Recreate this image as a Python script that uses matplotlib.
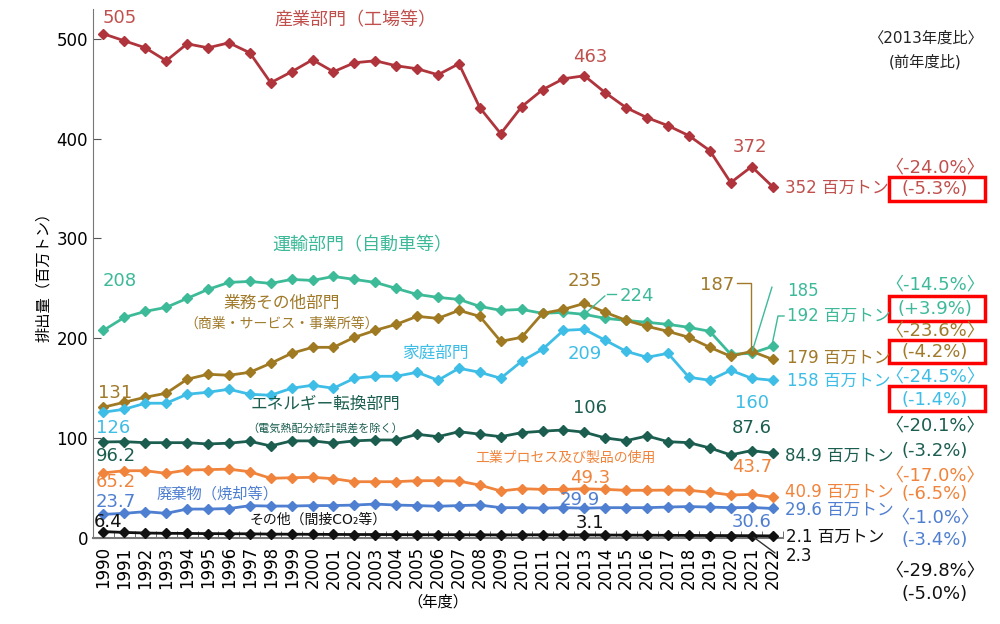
# CO2 emissions by sector, 1990-2022

import matplotlib
matplotlib.use("Agg")
import matplotlib.pyplot as plt
import matplotlib.patches as patches
import numpy as np

plt.rcParams['font.family'] = ['DejaVu Sans', 'Noto Sans CJK JP']

years = np.arange(1990, 2023)

industry = [505, 498, 491, 478, 495, 491, 496, 486, 456, 467, 479, 467, 476, 478, 473, 470,
            464, 475, 431, 405, 432, 449, 460, 463, 446, 431, 421, 413, 403, 388, 356, 372, 352]
transport = [208, 221, 227, 231, 240, 249, 256, 257, 255, 259, 258, 262, 259, 256, 250, 244,
             241, 239, 232, 228, 229, 225, 226, 224, 220, 218, 216, 214, 211, 207, 184, 185, 192]
commercial = [131, 136, 141, 145, 159, 164, 163, 166, 175, 185, 191, 191, 201, 208, 214, 222,
              220, 228, 222, 197, 201, 225, 229, 235, 226, 218, 212, 207, 201, 191, 182, 187, 179]
household = [126, 129, 135, 135, 144, 146, 149, 144, 143, 150, 153, 150, 160, 162, 162, 166,
             158, 170, 166, 160, 177, 189, 208, 209, 198, 187, 181, 185, 161, 158, 168, 160, 158]
energy = [96.2, 96.5, 95.5, 95.5, 95.5, 94.2, 95.0, 96.9, 92.2, 97.3, 97.3, 95.0, 97.3, 98.2,
          98.2, 103.9, 101.5, 106.5, 104.0, 101.5, 105.5, 107.0, 108.2, 106.0, 100.2, 97.5,
          102.2, 96.5, 95.5, 90.2, 83.2, 87.6, 84.9]
process = [65.2, 67.4, 67.4, 64.8, 68.1, 68.5, 69.0, 66.4, 59.8, 60.4, 60.8, 59.4, 56.4, 56.4,
           56.4, 57.4, 57.4, 57.0, 53.0, 47.1, 49.4, 48.7, 48.7, 49.3, 48.7, 47.8, 47.8, 48.0,
           47.8, 45.8, 43.1, 43.7, 40.9]
waste = [23.7, 24.7, 26.4, 24.7, 29.0, 29.0, 29.5, 32.4, 32.0, 32.0, 32.5, 32.5, 33.0, 34.0,
         33.0, 32.5, 31.8, 32.5, 33.0, 30.4, 30.4, 30.0, 30.4, 29.9, 30.4, 30.4, 30.4, 31.0,
         31.5, 31.0, 30.4, 30.6, 29.6]
other = [6.4, 5.6, 5.0, 4.7, 4.6, 4.4, 4.3, 4.2, 3.9, 3.8, 3.7, 3.6, 3.5, 3.5, 3.4, 3.3,
         3.3, 3.3, 3.2, 3.1, 3.2, 3.2, 3.1, 3.1, 3.0, 2.9, 2.8, 2.7, 2.6, 2.5, 2.4, 2.3, 2.1]

c_ind, t_ind = '#B0343C', '#C0504D'
c_tra, t_tra = '#3DBB98', '#3DB99A'
c_com, t_com = '#A07A22', '#A07A2A'
c_hou = '#3EBDE6'
c_ene = '#1B5E50'
c_pro = '#F0843C'
c_was = '#4F7FD0'
c_oth = '#111111'

fig = plt.figure(figsize=(10, 6.24), dpi=100)
ax = fig.add_axes([0.093, 0.1378, 0.69, 0.848])

series = [(industry, c_ind), (transport, c_tra), (commercial, c_com), (household, c_hou),
          (energy, c_ene), (process, c_pro), (waste, c_was), (other, c_oth)]
for vals, col in series:
    ax.plot(years, vals, color=col, lw=2, marker='D', ms=5, zorder=3, clip_on=False)

ax.set_xlim(1989.52, 2022.48)
ax.set_ylim(0, 530)
ax.set_yticks([0, 100, 200, 300, 400, 500])
ax.set_xticks(years)
ax.set_xticklabels([str(y) for y in years], rotation=90, fontsize=12)
ax.set_xticks(np.arange(1989.5, 2023, 1), minor=True)
ax.tick_params(axis='x', which='major', length=0, pad=6)
ax.tick_params(axis='x', which='minor', direction='in', length=5, color='#555555')
ax.tick_params(axis='y', direction='in', length=6, labelsize=12, color='#555555')
for s in ['top', 'right']:
    ax.spines[s].set_visible(False)
ax.spines['left'].set_color('#777777')
ax.spines['bottom'].set_color('#777777')
ax.spines['bottom'].set_linewidth(1.5)
ax.set_ylabel('排出量（百万トン）', fontsize=11, labelpad=4)
ax.set_xlabel('（年度）', fontsize=11, labelpad=4)


def ft(x, y, s, color, size=12, ha='center'):
    fig.text(x / 1000, 1 - y / 624, s, color=color, fontsize=size, ha=ha, va='center')


# inline labels
ft(120, 18, '505', t_ind, 13)
ft(355, 20, '産業部門（工場等）', t_ind, 13)
ft(590, 57, '463', t_ind, 13)
ft(750, 147, '372', t_ind, 13)
ft(785, 188, '352 百万トン', t_ind, 12, 'left')

ft(120, 281, '208', t_tra, 13)
ft(362, 245, '運輸部門（自動車等）', t_tra, 13)
ft(282, 303, '業務その他部門', t_com, 12)
ft(282, 324, '（商業・サービス・事業所等）', t_com, 10)
ft(435, 353, '家庭部門', c_hou, 12)
ft(115, 393, '131', t_com, 13)
ft(113, 428, '126', c_hou, 13)
ft(325, 404, 'エネルギー転換部門', c_ene, 12)
ft(325, 428, '（電気熱配分統計誤差を除く）', c_ene, 8)
ft(116, 456, '96.2', c_ene, 13)
ft(116, 482, '65.2', c_pro, 13)
ft(116, 502, '23.7', c_was, 13)
ft(108, 522, '6.4', c_oth, 13)
ft(218, 494, '廃棄物（焼却等）', c_was, 11)
ft(318, 520, 'その他（間接CO₂等）', c_oth, 10)

ft(585, 281, '235', t_com, 13)
ft(637, 296, '224', t_tra, 13)
ft(717, 285, '187', t_com, 13)
ft(590, 408, '106', c_ene, 13)
ft(585, 354, '209', c_hou, 13)
ft(590, 478, '49.3', c_pro, 13)
ft(580, 500, '29.9', c_was, 13)
ft(590, 523, '3.1', c_oth, 13)
ft(565, 458, '工業プロセス及び製品の使用', c_pro, 10)
ft(752, 403, '160', c_hou, 13)
ft(752, 428, '87.6', c_ene, 13)
ft(752, 467, '43.7', c_pro, 13)
ft(752, 522, '30.6', c_was, 13)

ft(787, 291, '185', t_tra, 12, 'left')
ft(787, 316, '192 百万トン', t_tra, 12, 'left')
ft(787, 358, '179 百万トン', t_com, 12, 'left')
ft(787, 381, '158 百万トン', c_hou, 12, 'left')
ft(785, 456, '84.9 百万トン', c_ene, 12, 'left')
ft(785, 492, '40.9 百万トン', c_pro, 12, 'left')
ft(785, 510, '29.6 百万トン', c_was, 12, 'left')
ft(786, 537, '2.1 百万トン', c_oth, 12, 'left')
ft(786, 556, '2.3', c_oth, 12, 'left')

# leader lines
ax.annotate('', xy=(2013, transport[23]), xytext=(607, 624 - 294), textcoords='figure pixels',
            arrowprops=dict(arrowstyle='-', color=t_tra, lw=1))
ax.plot([607 / 1000, 616 / 1000], [1 - 294 / 624, 1 - 294 / 624],
        transform=fig.transFigure, color=t_tra, lw=1, clip_on=False)
ax.plot([737 / 1000, 751 / 1000, 751 / 1000], [1 - 283 / 624, 1 - 283 / 624, 1 - 348 / 624],
        transform=fig.transFigure, color=t_com, lw=1, clip_on=False)
ax.annotate('', xy=(2021, transport[31]), xytext=(772, 624 - 287), textcoords='figure pixels',
            arrowprops=dict(arrowstyle='-', color=t_tra, lw=1, shrinkA=0))
ax.plot([772 / 1000, 778 / 1000, 784 / 1000], [1 - 345 / 624, 1 - 316 / 624, 1 - 316 / 624],
        transform=fig.transFigure, color=t_tra, lw=1, clip_on=False)
ax.annotate('', xy=(2021, other[31]), xytext=(775, 624 - 553), textcoords='figure pixels',
            arrowprops=dict(arrowstyle='-', color='#333333', lw=1, shrinkA=0))

# right column
ft(925, 38, '〈2013年度比〉', '#222222', 11)
ft(925, 62, '(前年度比)', '#222222', 11)
right = [
    (167, '〈-24.0%〉', t_ind), (189, '(-5.3%)', t_ind),
    (284, '〈-14.5%〉', t_tra), (309, '(+3.9%)', t_tra),
    (330, '〈-23.6%〉', t_com), (352, '(-4.2%)', t_com),
    (376, '〈-24.5%〉', c_hou), (400, '(-1.4%)', c_hou),
    (425, '〈-20.1%〉', c_ene), (451, '(-3.2%)', c_ene),
    (475, '〈-17.0%〉', c_pro), (494, '(-6.5%)', c_pro),
    (517, '〈-1.0%〉', c_was), (540, '(-3.4%)', c_was),
    (570, '〈-29.8%〉', c_oth), (594, '(-5.0%)', c_oth),
]
for y, s, col in right:
    ft(935, y, s, col, 13)

for y0, y1 in [(177, 201), (296, 321), (340, 363), (386, 411)]:
    fig.patches.append(patches.Rectangle((889 / 1000, 1 - y1 / 624), 96 / 1000, (y1 - y0) / 624,
                                         transform=fig.transFigure, fill=False,
                                         edgecolor='#FF0000', lw=2.5))

fig.savefig('out.png', dpi=100)
